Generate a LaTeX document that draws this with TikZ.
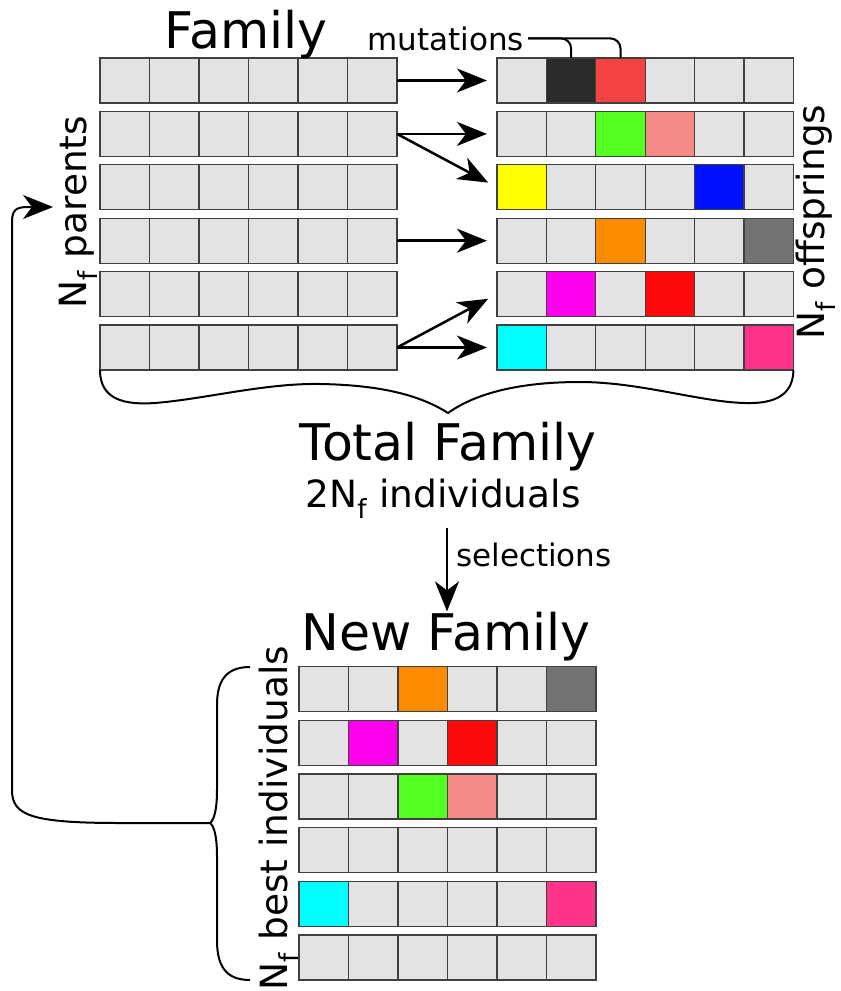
\documentclass[tikz,border=0pt]{standalone}
\usepackage{fontspec}
\setmainfont{DejaVu Sans}
\usetikzlibrary{arrows.meta,positioning,calc}
\definecolor{Cg}{HTML}{E3E3E3}
\definecolor{Cdark}{HTML}{2B2B2B}
\definecolor{Clred}{HTML}{F54242}
\definecolor{Cgreen}{HTML}{55FF22}
\definecolor{Csalmon}{HTML}{F58A86}
\definecolor{Cyellow}{HTML}{FFFF00}
\definecolor{Cblue}{HTML}{0011FF}
\definecolor{Corange}{HTML}{FF8C00}
\definecolor{Cgrey}{HTML}{737373}
\definecolor{Cmag}{HTML}{FF00EE}
\definecolor{Cred}{HTML}{FF0A0A}
\definecolor{Ccyan}{HTML}{00FFFF}
\definecolor{Cpink}{HTML}{FF3388}
\tikzset{
  cell/.style={draw=black!75,line width=1.3pt,fill=Cg,minimum width=49.5pt,minimum height=45pt,inner sep=0pt,outer sep=0pt},
  arr/.style={-{Stealth[length=30pt,width=24pt,inset=9pt]},line width=2.5pt},
  bracket/.style={line width=2pt},
  bigtext/.style={font=\fontsize{50.5}{58}\selectfont,inner sep=0pt},
  midtext/.style={font=\fontsize{37.5}{45}\selectfont,inner sep=0pt},
  smalltext/.style={font=\fontsize{31}{37}\selectfont,inner sep=0pt},
}

\begin{document}
\begin{tikzpicture}[x=1pt,y=-1pt]
  \useasboundingbox (0,0) rectangle (841,991);

  % --- parents (left block) ---
  \foreach \r in {1,...,6}
    \foreach \j in {1,...,6}
      \node[cell] (p\r-\j) at ({100+49.5*(\j-0.5)},{80.5+53.4*(\r-1)}) {};

  % --- offsprings (right block) ---
  \foreach \r/\row in {1/{Cg,Cdark,Clred,Cg,Cg,Cg},
                       2/{Cg,Cg,Cgreen,Csalmon,Cg,Cg},
                       3/{Cyellow,Cg,Cg,Cg,Cblue,Cg},
                       4/{Cg,Cg,Corange,Cg,Cg,Cgrey},
                       5/{Cg,Cmag,Cg,Cred,Cg,Cg},
                       6/{Ccyan,Cg,Cg,Cg,Cg,Cpink}}
    \foreach \cl [count=\j] in \row
      \node[cell,fill=\cl] (o\r-\j) at ({497+49.4*(\j-0.5)},{80.5+53.4*(\r-1)}) {};

  % --- new family (bottom block) ---
  \foreach \r/\row in {1/{Cg,Cg,Corange,Cg,Cg,Cgrey},
                       2/{Cg,Cmag,Cg,Cred,Cg,Cg},
                       3/{Cg,Cg,Cgreen,Csalmon,Cg,Cg},
                       4/{Cg,Cg,Cg,Cg,Cg,Cg},
                       5/{Ccyan,Cg,Cg,Cg,Cg,Cpink},
                       6/{Cg,Cg,Cg,Cg,Cg,Cg}}
    \foreach \cl [count=\j] in \row
      \node[cell,fill=\cl] (n\r-\j) at ({299+49.5*(\j-0.5)},{689+53.7*(\r-1)}) {};

  % offspring arrows
  \draw[arr,shorten >=10pt] (p1-6.east) -- (o1-1.west);
  \draw[arr,shorten >=10pt] (p2-6.east) -- (o2-1.west);
  \draw[arr,shorten >=10pt] (p2-6.east) -- (o3-1.west);
  \draw[arr,shorten >=10pt] (p4-6.east) -- (o4-1.west);
  \draw[arr,shorten >=10pt] (p6-6.east) -- (o5-1.west);
  \draw[arr,shorten >=10pt] (p6-6.east) -- (o6-1.west);

  % labels
  \node[bigtext,anchor=base] (fam) at (246,48) {Family};
  \node[smalltext,anchor=base east] (mut) at (524,50) {mutations};
  \node[midtext,anchor=base,rotate=90] (par) at (86,212) {N\textsubscript{f} parents};
  \node[midtext,anchor=base,rotate=90] (off) at (824,222) {N\textsubscript{f} offsprings};
  \node[bigtext,anchor=base] (tot) at (448,460) {Total Family};
  \node[midtext,anchor=base] (ind) at (443,507) {2N\textsubscript{f} individuals};
  \node[smalltext,anchor=base west] (sel) at (456,566) {selections};
  \node[bigtext,anchor=base] (newf) at (446,650) {New Family};
  \node[midtext,anchor=base,rotate=90] (best) at (287,818) {N\textsubscript{f} best individuals};

  % mutations bracket
  \draw[bracket,rounded corners=10pt] (o1-2.north) |- ($(mut.east)+(4,0)$);
  \draw[bracket,rounded corners=10pt] (o1-3.north) |- ($(mut.east)+(4,0)$);

  % brace under total family
  \coordinate (ftip) at (448,413);
  \draw[bracket] (p6-1.south west) .. controls (100,400) and (125,405) .. (155,403)
    .. controls (205,399) and (265,383) .. (320,384)
    .. controls (380,385) and (420,395) .. (ftip)
    .. controls (476,393) and (520,382) .. (580,382)
    .. controls (640,382) and (700,402) .. (745,403)
    .. controls (775,404) and (793,395) .. (o6-6.south east);

  % selection
  \draw[arr] (ind.south) ++(4,9) coordinate (s0) -- (s0 |- newf.north);

  % brace beside new family, feeding back to the parents
  \coordinate (btop) at (250,667);
  \coordinate (bbot) at (250,980);
  \coordinate (btip) at (210,823);
  \coordinate (back) at (53,207);
  \draw[bracket] (btop) .. controls (225,667) and (217,682) .. (217,705)
    -- (217,790) .. controls (217,810) and (214,820) .. (btip)
    .. controls (214,826) and (217,836) .. (217,856)
    -- (217,940) .. controls (217,965) and (225,980) .. (bbot);
  \draw[arr,line width=2pt] (btip) -- (120,823) .. controls (30,823) and (12,815) .. (12,790)
    -- (12,222) .. controls (12,210) and (16,207) .. (28,207) -- (back);
\end{tikzpicture}
\end{document}
